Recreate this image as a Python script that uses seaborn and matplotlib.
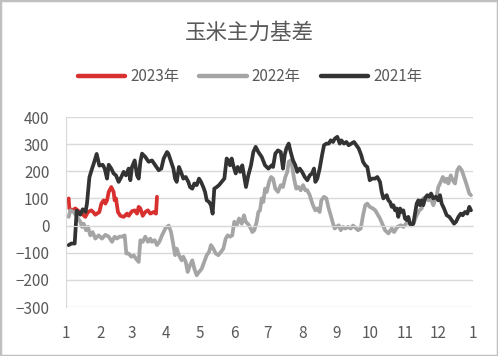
import seaborn as sns
import matplotlib
matplotlib.use('Agg')
import matplotlib.pyplot as plt
import pandas as pd

# day of year / basis value
days_2023 = [2.4, 3.0, 5.4, 8.4, 11.4, 14.3, 17.3, 19.7, 22.7, 24.8, 26.3, 29.9, 31.7, 33.8, 35.3,
             36.8, 38.3, 40.6, 42.7, 43.6, 44.8, 46.6, 48.7, 51.7, 54.7, 56.2, 59.2, 61.6, 63.7,
             65.2, 66.7, 68.8, 71.1, 73.5, 75.6, 78.6, 80.7, 81.6]
vals_2023 = [100, 63, 56, 63, 53, 44, 32, 50, 56, 48, 40, 50, 81, 93, 81,
             93, 124, 142, 124, 93, 100, 50, 36, 32, 44, 36, 53, 56, 44,
             69, 63, 36, 50, 56, 44, 50, 44, 106]

days_2022 = [2.4, 3.9, 6.9, 9.9, 12.8, 14.3, 15.8, 17.9, 19.7, 21.8, 23.9, 26.3, 29.3, 32.3, 35.3,
             38.3, 41.3, 43.6, 45.7, 47.8, 50.2, 52.6, 54.1, 56.2, 58.6, 60.7, 62.8, 65.2, 66.7,
             68.8, 71.1, 73.5, 75.6, 77.1, 79.6, 81.6, 83.7, 86.1, 89.1, 92.1, 94.2, 96.3, 97.8,
             99.3, 101.3, 103.7, 105.2, 107.4, 109.1, 111.2, 113.3, 115.1, 117.2, 119.3, 121.7,
             124.0, 126.2, 128.3, 130.0, 132.1, 134.3, 136.6, 139.0, 141.1, 143.2, 145.0, 147.1,
             149.1, 150.9, 153.1, 155.2, 157.6, 159.6, 161.2, 163.0, 165.0, 167.1, 168.9, 171.0,
             172.5, 174.0, 175.5, 177.0, 178.5, 180.0, 182.1, 183.9, 185.7, 187.7, 190.1, 192.6,
             194.6, 196.7, 198.5, 199.7, 201.5, 202.7, 204.5, 206.5, 208.7, 210.5, 212.6, 214.6,
             216.4, 218.6, 220.0, 221.5, 223.6, 225.4, 227.5, 229.0, 231.4, 233.5, 235.6, 237.4,
             239.5, 241.0, 242.5, 244.6, 246.4, 248.4, 250.5, 252.9, 255.3, 257.4, 259.5, 261.9,
             264.3, 266.4, 268.4, 270.2, 272.4, 275.3, 277.4, 281.6, 286.1, 289.1, 292.1, 294.2,
             297.1, 300.2, 302.5, 304.9, 307.0, 309.2, 311.5, 314.5, 316.9, 319.0, 320.4, 322.9,
             324.9, 327.1, 329.4, 330.9, 332.5, 333.9, 336.1, 337.9, 339.9, 341.4, 342.9, 345.0,
             346.8, 348.9, 350.9, 352.7, 354.9, 357.0, 359.4, 361.7, 363.2]
vals_2022 = [32, 56, 50, 32, 14, -5, 7, -17, -5, -36, -24, -48, -36, -48, -34,
             -41, -60, -41, -48, -41, -41, -36, -103, -103, -115, -110, -122, -134, -54,
             -60, -41, -60, -48, -60, -54, -72, -60, -36, -11, 0, -24, -72, -109,
             -85, -109, -128, -115, -134, -171, -146, -128, -159, -183, -171, -159,
             -134, -109, -97, -72, -85, -103, -109, -97, -85, -48, -36, -41,
             -36, 14, 1, 26, 7, 38, 14, 7, -5, -24, -17, 14,
             50, 56, 100, 87, 136, 124, 161, 179, 173, 136, 124, 149,
             142, 179, 198, 235, 240, 222, 173, 136, 142, 130, 149, 130,
             130, 112, 93, 75, 56, 63, 50, 93, 106, 100, 63, 38,
             7, -11, -5, 1, -17, -5, -11, -5, -11, 0, -8, -17,
             -11, 38, 75, 81, 69, 63, 56, 26, -17, -29, -11, -24,
             -5, 1, -5, 7, 14, 1, 7, 38, 56, 63, 100, 106,
             93, 100, 75, 93, 112, 142, 161, 179, 161, 173, 155, 185,
             167, 155, 204, 216, 204, 179, 149, 118, 112]

days_2021 = [2.4, 4.8, 7.8, 9.6, 12.8, 15.0, 17.5, 18.8, 21.0, 23.3, 25.0, 27.5, 29.9, 32.9, 34.7,
             36.8, 38.3, 40.6, 42.7, 44.8, 47.2, 49.6, 51.7, 53.8, 56.2, 57.7, 59.2, 61.6, 63.7,
             65.2, 66.7, 68.2, 71.1, 74.1, 77.1, 80.1, 83.1, 85.5, 87.6, 90.6, 91.8, 94.2, 96.3,
             97.8, 99.3, 101.3, 103.1, 105.2, 107.4, 109.7, 111.2, 113.3, 115.1, 117.2, 119.3,
             121.1, 123.1, 124.7, 126.2, 128.3, 130.0, 131.5, 133.0, 135.2, 137.2, 139.6, 142.0,
             144.1, 145.6, 147.1, 148.6, 150.0, 152.2, 154.0, 156.1, 158.1, 159.9, 161.4, 163.5,
             165.9, 168.0, 170.1, 172.5, 175.5, 178.5, 181.5, 184.5, 185.7, 187.7, 190.1, 192.6,
             194.6, 196.1, 197.6, 199.7, 201.5, 203.6, 205.7, 207.4, 209.6, 211.7, 214.1, 216.4,
             218.6, 220.6, 222.4, 223.6, 225.4, 227.5, 229.6, 231.4, 233.5, 235.6, 237.4, 239.5,
             241.0, 243.3, 245.5, 246.9, 249.3, 251.4, 253.5, 255.9, 258.3, 260.4, 262.5, 264.8,
             266.4, 268.4, 270.2, 272.4, 274.4, 277.1, 279.2, 281.6, 283.1, 284.6, 286.1, 287.6,
             289.1, 290.6, 292.1, 293.6, 295.1, 296.6, 298.0, 299.6, 301.1, 302.5, 304.0, 305.6,
             307.0, 308.5, 310.0, 311.5, 313.0, 314.5, 316.0, 317.5, 319.0, 320.4, 322.0, 324.0,
             325.8, 327.4, 329.4, 331.8, 333.9, 335.4, 336.9, 339.0, 341.4, 343.8, 345.9, 348.0,
             349.8, 351.9, 354.0, 355.8, 357.8, 359.9, 361.7, 363.2]
vals_2021 = [-72, -66, -66, 55, 40, 60, 50, 81, 178, 209, 230, 264, 221, 224, 210,
             173, 224, 210, 192, 185, 161, 179, 198, 185, 210, 167, 216, 240, 185,
             173, 235, 265, 253, 235, 240, 222, 204, 210, 247, 271, 265, 235, 210,
             173, 161, 216, 198, 173, 179, 161, 142, 136, 155, 149, 173,
             161, 142, 124, 93, 87, 75, 44, 136, 142, 149, 161, 173,
             247, 240, 222, 247, 222, 192, 216, 198, 222, 179, 142, 185,
             222, 271, 290, 271, 253, 222, 210, 222, 216, 265, 277, 271,
             210, 259, 284, 302, 271, 240, 222, 198, 210, 198, 179, 167,
             185, 192, 210, 161, 173, 210, 259, 296, 302, 302, 314, 308,
             320, 327, 302, 314, 302, 308, 296, 302, 308, 296, 284, 259,
             235, 222, 216, 167, 173, 173, 179, 161, 124, 100, 106, 112,
             93, 87, 69, 75, 56, 63, 32, 63, 50, 56, 26, 20,
             32, 7, 1, 7, 44, 81, 93, 75, 93, 75, 100, 112,
             106, 118, 100, 106, 93, 112, 81, 63, 38, 32, 20, 7,
             14, 32, 44, 38, 50, 44, 69, 56]

years = ['2023年', '2022年', '2021年']
colors = ['#d8302f', '#a5a5a5', '#333333']
month_days = [0, 31, 59, 90, 120, 151, 181, 212, 243, 273, 304, 334, 365]
month_labels = ['1', '2', '3', '4', '5', '6', '7', '8', '9', '10', '11', '12', '1']
y_ticks = [-300, -200, -100, 0, 100, 200, 300, 400]

df = pd.concat([
    pd.DataFrame({'day': days_2023, 'value': vals_2023, 'year': years[0]}),
    pd.DataFrame({'day': days_2022, 'value': vals_2022, 'year': years[1]}),
    pd.DataFrame({'day': days_2021, 'value': vals_2021, 'year': years[2]}),
])

sns.set_style('white')
plt.rcParams['font.family'] = ['Noto Sans CJK SC', 'DejaVu Sans']

fig = plt.figure(figsize=(4.98, 3.56), dpi=100)
ax = fig.add_axes([66 / 498, 1 - 307 / 356, (473 - 66) / 498, (307 - 117) / 356])

sns.lineplot(data=df, x='day', y='value', hue='year', hue_order=years,
             palette=dict(zip(years, colors)), linewidth=2.7, estimator=None,
             ax=ax)

ax.set_xlim(0, 365)
ax.set_ylim(-300, 400)
ax.set_yticks(y_ticks)
ax.yaxis.grid(True, color='#d9d9d9', linewidth=1)
ax.set_axisbelow(True)
ax.set_xlabel('')
ax.set_ylabel('')

for s in ['top', 'right']:
    ax.spines[s].set_visible(False)
ax.spines['left'].set_color('#d9d9d9')
ax.spines['bottom'].set_color('#d9d9d9')
ax.spines['bottom'].set_position(('data', 0))

# tick marks on the zero line, labels at the bottom
ax.set_xticks(month_days)
ax.tick_params(axis='x', direction='out', length=4, color='#d9d9d9', labelbottom=False)
ax.tick_params(axis='y', length=0, pad=12, labelsize=11, labelcolor='#595959')
sec = ax.secondary_xaxis(0.0)
sec.set_xticks(month_days)
sec.set_xticklabels(month_labels)
sec.tick_params(length=0, pad=13, labelsize=11, labelcolor='#595959')
sec.spines['bottom'].set_visible(False)

handles, labels = ax.get_legend_handles_labels()
ax.legend(handles, labels, loc='center', bbox_to_anchor=(250 / 498, 1 - 77 / 356),
          bbox_transform=fig.transFigure, ncol=3, frameon=False, fontsize=11,
          handlelength=3.1, handletextpad=0.35, columnspacing=1.3, labelcolor='#595959')
for line in ax.get_legend().get_lines():
    line.set_linewidth(3.2)
    line.set_solid_capstyle('round')

fig.text(0.5, 1 - 33 / 356, '玉米主力基差', ha='center', va='center', fontsize=15.5, color='#595959')

fig.add_artist(plt.Rectangle((0, 0), 1, 1, transform=fig.transFigure, fill=False,
                             edgecolor='#bfbfbf', linewidth=2.5))

fig.savefig('out.png', dpi=100)
